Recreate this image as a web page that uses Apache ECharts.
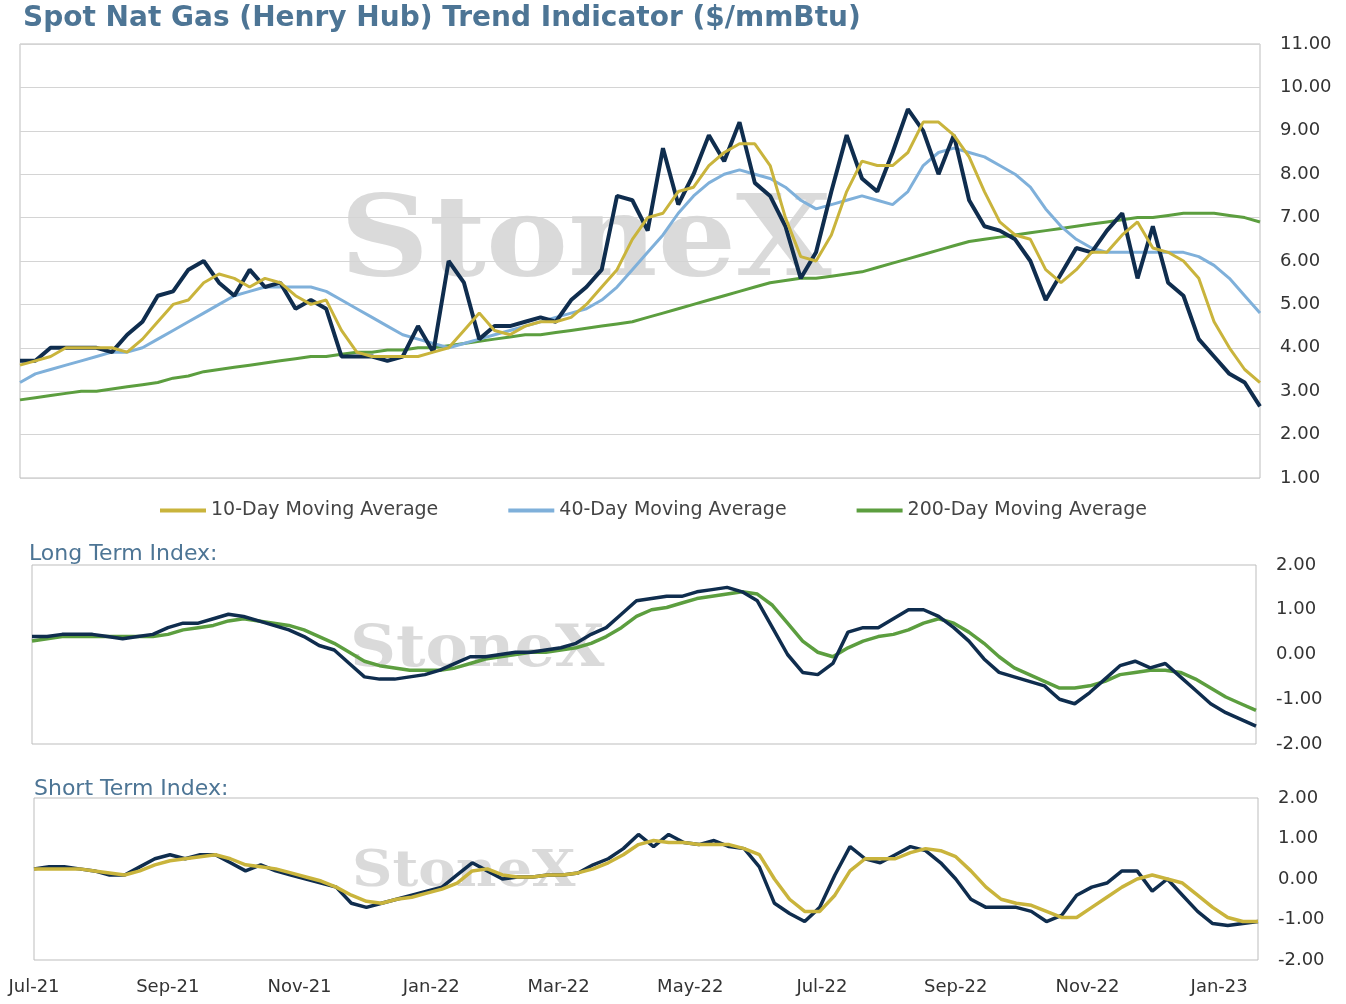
<!DOCTYPE html>
<html>
<head>
<meta charset="utf-8">
<script src="https://cdn.jsdelivr.net/npm/echarts@6/dist/echarts.min.js"></script>
<style>
  html, body { margin: 0; padding: 0; background: #fff; }
  #chart { width: 1346px; height: 1004px; }
</style>
</head>
<body>
<div id="chart"></div>
<script>
// weekly observations, starting 2021-07-01
var startDate = '2021-07-01';
var totalDays = 568;
var weekStep = 7;

var spot = [
  3.7,3.7,4.0,4.0,4.0,4.0,3.9,4.3,4.6,5.2,
  5.3,5.8,6.0,5.5,5.2,5.8,5.4,5.5,4.9,5.1,
  4.9,3.8,3.8,3.8,3.7,3.8,4.5,3.9,6.0,5.5,
  4.2,4.5,4.5,4.6,4.7,4.6,5.1,5.4,5.8,7.5,
  7.4,6.7,8.6,7.3,8.0,8.9,8.3,9.2,7.8,7.5,
  6.8,5.6,6.2,7.6,8.9,7.9,7.6,8.5,9.5,9.0,
  8.0,8.9,7.4,6.8,6.7,6.5,6.0,5.1,5.7,6.3,
  6.2,6.7,7.1,5.6,6.8,5.5,5.2,4.2,3.8,3.4,
  3.2,2.65
];
var ma10 = [
  3.6,3.7,3.8,4.0,4.0,4.0,4.0,3.9,4.2,4.6,
  5.0,5.1,5.5,5.7,5.6,5.4,5.6,5.5,5.2,5.0,
  5.1,4.4,3.9,3.8,3.8,3.8,3.8,3.9,4.0,4.4,
  4.8,4.4,4.3,4.5,4.6,4.6,4.7,5.0,5.4,5.8,
  6.5,7.0,7.1,7.6,7.7,8.2,8.5,8.7,8.7,8.2,
  7.0,6.1,6.0,6.6,7.6,8.3,8.2,8.2,8.5,9.2,
  9.2,8.9,8.4,7.6,6.9,6.6,6.5,5.8,5.5,5.8,
  6.2,6.2,6.6,6.9,6.3,6.2,6.0,5.6,4.6,4.0,
  3.5,3.2
];
var ma40 = [
  3.2,3.4,3.5,3.6,3.7,3.8,3.9,3.9,4.0,4.2,
  4.4,4.6,4.8,5.0,5.2,5.3,5.4,5.4,5.4,5.4,
  5.3,5.1,4.9,4.7,4.5,4.3,4.2,4.1,4.0,4.1,
  4.2,4.3,4.4,4.5,4.6,4.7,4.8,4.9,5.1,5.4,
  5.8,6.2,6.6,7.1,7.5,7.8,8.0,8.1,8.0,7.9,
  7.7,7.4,7.2,7.3,7.4,7.5,7.4,7.3,7.6,8.2,
  8.5,8.6,8.5,8.4,8.2,8.0,7.7,7.2,6.8,6.5,
  6.3,6.2,6.2,6.2,6.2,6.2,6.2,6.1,5.9,5.6,
  5.2,4.8
];
var ma200 = [
  2.8,2.85,2.9,2.95,3.0,3.0,3.05,3.1,3.15,3.2,
  3.3,3.35,3.45,3.5,3.55,3.6,3.65,3.7,3.75,3.8,
  3.8,3.85,3.9,3.9,3.95,3.95,4.0,4.0,4.05,4.1,
  4.15,4.2,4.25,4.3,4.3,4.35,4.4,4.45,4.5,4.55,
  4.6,4.7,4.8,4.9,5.0,5.1,5.2,5.3,5.4,5.5,
  5.55,5.6,5.6,5.65,5.7,5.75,5.85,5.95,6.05,6.15,
  6.25,6.35,6.45,6.5,6.55,6.6,6.65,6.7,6.75,6.8,
  6.85,6.9,6.95,7.0,7.0,7.05,7.1,7.1,7.1,7.05,
  7.0,6.9
];
var longIdx = [
  0.4,0.4,0.45,0.45,0.45,0.4,0.35,0.4,0.45,0.6,
  0.7,0.7,0.8,0.9,0.85,0.75,0.65,0.55,0.4,0.2,
  0.1,-0.2,-0.5,-0.55,-0.55,-0.5,-0.45,-0.35,-0.2,-0.05,
  -0.05,0.0,0.05,0.05,0.1,0.15,0.25,0.45,0.6,0.9,
  1.2,1.25,1.3,1.3,1.4,1.45,1.5,1.4,1.2,0.6,
  0.0,-0.4,-0.45,-0.2,0.5,0.6,0.6,0.8,1.0,1.0,
  0.85,0.6,0.3,-0.1,-0.4,-0.5,-0.6,-0.7,-1.0,-1.1,
  -0.85,-0.55,-0.25,-0.15,-0.3,-0.2,-0.5,-0.8,-1.1,-1.3,
  -1.45,-1.6
];
var longSig = [
  0.3,0.35,0.4,0.4,0.4,0.4,0.4,0.4,0.4,0.45,
  0.55,0.6,0.65,0.75,0.8,0.75,0.7,0.65,0.55,0.4,
  0.25,0.05,-0.15,-0.25,-0.3,-0.35,-0.35,-0.35,-0.3,-0.2,
  -0.1,-0.05,0.0,0.05,0.05,0.1,0.15,0.25,0.4,0.6,
  0.85,1.0,1.05,1.15,1.25,1.3,1.35,1.4,1.35,1.1,
  0.7,0.3,0.05,-0.05,0.15,0.3,0.4,0.45,0.55,0.7,
  0.8,0.7,0.5,0.25,-0.05,-0.3,-0.45,-0.6,-0.75,-0.75,
  -0.7,-0.6,-0.45,-0.4,-0.35,-0.35,-0.4,-0.55,-0.75,-0.95,
  -1.1,-1.25
];
var shortIdx = [
  0.25,0.3,0.3,0.25,0.2,0.1,0.1,0.3,0.5,0.6,
  0.5,0.6,0.6,0.4,0.2,0.35,0.2,0.1,0.0,-0.1,
  -0.2,-0.6,-0.7,-0.6,-0.5,-0.4,-0.3,-0.2,0.1,0.4,
  0.2,0.0,0.05,0.05,0.1,0.1,0.15,0.35,0.5,0.75,
  1.1,0.8,1.1,0.9,0.85,0.95,0.8,0.75,0.3,-0.6,
  -0.85,-1.05,-0.7,0.1,0.8,0.5,0.4,0.6,0.8,0.7,
  0.4,0.0,-0.5,-0.7,-0.7,-0.7,-0.8,-1.05,-0.9,-0.4,
  -0.2,-0.1,0.2,0.2,-0.3,0.0,-0.4,-0.8,-1.1,-1.15,
  -1.1,-1.05
];
var shortSig = [
  0.25,0.25,0.25,0.25,0.2,0.15,0.1,0.2,0.35,0.45,
  0.5,0.55,0.6,0.5,0.35,0.3,0.25,0.15,0.05,-0.05,
  -0.2,-0.4,-0.55,-0.6,-0.5,-0.45,-0.35,-0.25,-0.1,0.2,
  0.25,0.1,0.05,0.05,0.1,0.1,0.15,0.25,0.4,0.6,
  0.85,0.95,0.9,0.9,0.85,0.85,0.85,0.75,0.6,0.0,
  -0.5,-0.8,-0.8,-0.4,0.2,0.5,0.5,0.5,0.65,0.75,
  0.7,0.55,0.2,-0.2,-0.5,-0.6,-0.65,-0.8,-0.95,-0.95,
  -0.7,-0.45,-0.2,0.0,0.1,0.0,-0.1,-0.4,-0.7,-0.95,
  -1.05,-1.05
];

var NAVY = '#0f2d4e', GOLD = '#c9b43c', BLUE = '#7fb0da', GREEN = '#5c9e3f';
var MONTHS = ['Jan','Feb','Mar','Apr','May','Jun','Jul','Aug','Sep','Oct','Nov','Dec'];
var FONT = 'DejaVu Sans';

// daily category axis
var days = [];
var d0 = new Date(startDate + 'T00:00:00Z');
for (let i = 0; i < totalDays; i++) {
    days.push(new Date(d0.getTime() + i * 86400000));
}
var dayNames = days.map(function (d) { return d.toISOString().slice(0, 10); });

function pairs(arr) {
    return arr.map(function (v, i) { return [i * weekStep, v]; });
}

// labels on the 1st of Jan, Mar, May, Jul, Sep, Nov
function isLabelDay(i) {
    var d = days[i];
    return d.getUTCDate() === 1 && d.getUTCMonth() % 2 === 0;
}

function xAx(idx, showLabel) {
    return {
        type: 'category', gridIndex: idx, data: dayNames, boundaryGap: false,
        axisLine: { show: false }, axisTick: { show: false },
        axisLabel: {
            show: showLabel, color: '#333', fontSize: 18, fontFamily: FONT, margin: 18,
            interval: function (i) { return isLabelDay(i); },
            formatter: function (v) {
                var d = new Date(v + 'T00:00:00Z');
                return MONTHS[d.getUTCMonth()] + '-' + String(d.getUTCFullYear()).slice(2);
            }
        },
        splitLine: { show: false }
    };
}

function yAx(idx, min, max, interval, split) {
    return {
        type: 'value', gridIndex: idx, position: 'right', min: min, max: max, interval: interval,
        axisLine: { show: false }, axisTick: { show: false },
        axisLabel: { color: '#333', fontSize: 18, fontFamily: FONT, margin: 20,
            formatter: function (v) { return v.toFixed(2); } },
        splitLine: { show: split, lineStyle: { color: '#d4d4d4', width: 1 } }
    };
}

function line(name, data, color, width, xi, z) {
    return {
        name: name, type: 'line', data: pairs(data), xAxisIndex: xi, yAxisIndex: xi,
        showSymbol: false, lineStyle: { color: color, width: width },
        itemStyle: { color: color }, z: z, animation: false
    };
}

function watermark(x, y, size, sx) {
    return {
        type: 'text', x: x, y: y, scaleX: sx, z: 0, silent: true,
        style: { text: 'StoneX', font: 'bold ' + size + 'px "DejaVu Serif"', fill: 'rgba(150,150,150,0.35)' }
    };
}

var myChart = echarts.init(document.getElementById('chart'));

var option = {
    animation: false,
    title: [
        { text: 'Spot Nat Gas (Henry Hub) Trend Indicator ($/mmBtu)', left: 18, top: 0,
          textStyle: { color: '#4d7595', fontSize: 28, fontWeight: 'bold', fontFamily: FONT } },
        { text: 'Long Term Index:', left: 24, top: 538,
          textStyle: { color: '#4d7595', fontSize: 22, fontWeight: 'normal', fontFamily: FONT } },
        { text: 'Short Term Index:', left: 29, top: 773,
          textStyle: { color: '#4d7595', fontSize: 22, fontWeight: 'normal', fontFamily: FONT } }
    ],
    legend: {
        data: ['10-Day Moving Average', '40-Day Moving Average', '200-Day Moving Average'],
        top: 496, left: 155, itemGap: 70, itemWidth: 46, itemHeight: 4, icon: 'rect',
        textStyle: { color: '#444', fontSize: 19, fontFamily: FONT }
    },
    grid: [
        { left: 20, right: 86, top: 44, height: 434, show: true, borderColor: '#bdbdbd', borderWidth: 1 },
        { left: 32, right: 90, top: 565, height: 179, show: true, borderColor: '#bdbdbd', borderWidth: 1 },
        { left: 34, right: 88, top: 798, height: 162, show: true, borderColor: '#bdbdbd', borderWidth: 1 }
    ],
    xAxis: [xAx(0, false), xAx(1, false), xAx(2, true)],
    yAxis: [yAx(0, 1, 11, 1, true), yAx(1, -2, 2, 1, false), yAx(2, -2, 2, 1, false)],
    graphic: [watermark(340, 190, 112, 1.1), watermark(350, 622, 58, 1.1), watermark(352, 848, 50, 1.12)],
    series: [
        line('200-Day Moving Average', ma200, GREEN, 3, 0, 2),
        line('40-Day Moving Average', ma40, BLUE, 3, 0, 3),
        line('Spot', spot, NAVY, 4, 0, 4),
        line('10-Day Moving Average', ma10, GOLD, 3, 0, 5),
        line('Long Signal', longSig, GREEN, 3.5, 1, 3),
        line('Long Index', longIdx, NAVY, 3.5, 1, 4),
        line('Short Index', shortIdx, NAVY, 3.5, 2, 3),
        line('Short Signal', shortSig, GOLD, 3.5, 2, 4)
    ]
};
myChart.setOption(option);
</script>
</body>
</html>
